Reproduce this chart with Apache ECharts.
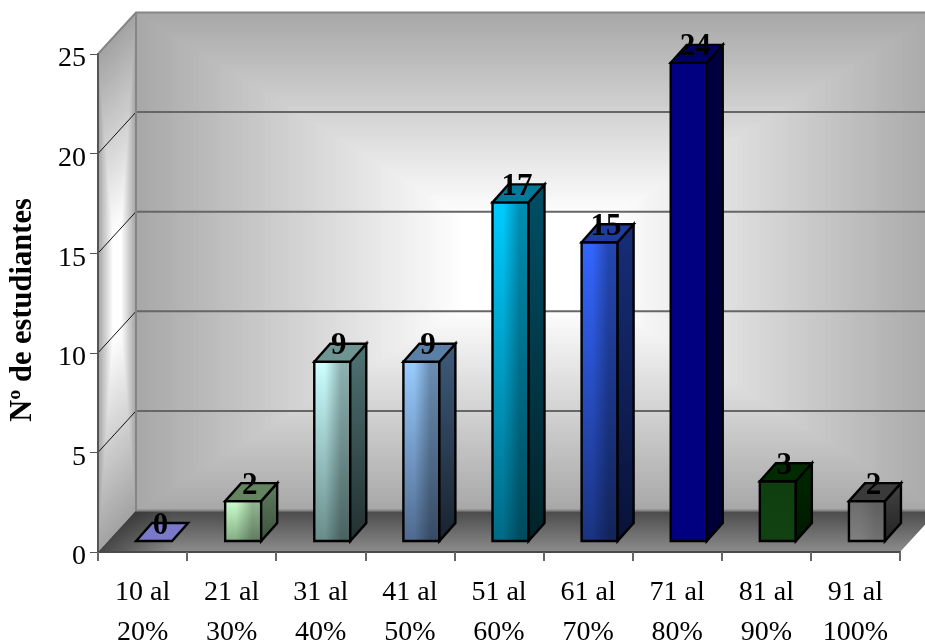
<!DOCTYPE html>
<html>
<head>
<meta charset="utf-8">
<style>html,body{margin:0;padding:0;background:#fff}#chart{width:925px;height:642px}</style>
<script src="https://cdn.jsdelivr.net/npm/echarts@6/dist/echarts.min.js"></script>
</head>
<body>
<div id="chart"></div>
<script>
// Distribution of students by score band
const categories = ['10 al\n20%', '21 al\n30%', '31 al\n40%', '41 al\n50%', '51 al\n60%', '61 al\n70%', '71 al\n80%', '81 al\n90%', '91 al\n100%'];
const students = [0, 2, 9, 9, 17, 15, 24, 3, 2];
const valueTicks = [0, 5, 10, 15, 20, 25];
const yTitle = 'Nº de estudiantes';

// Face colours of each column: front top, front bottom, front shade, side top, side bottom, cap
const faceStyles = [
  ['#7a78c8', '#7a78c8', 0,    '#7a78c8', '#7a78c8', '#7a78c8'],
  ['#ccffcc', '#84ac84', 0.28, '#5f7f5f', '#3c503c', '#64845f'],
  ['#ccffff', '#688c8a', 0.30, '#4f7474', '#222f2f', '#6f9593'],
  ['#99ccff', '#4f6a8e', 0.30, '#3f5c7c', '#18222e', '#5a80a8'],
  ['#00ccff', '#006a85', 0.30, '#004f66', '#002229', '#007a99'],
  ['#3366ff', '#1a3380', 0.30, '#172e78', '#081238', '#1f3d9e'],
  ['#000080', '#000080', 0,    '#000040', '#000038', '#000060'],
  ['#0f3f0f', '#124212', 0,    '#002800', '#001800', '#002a00'],
  ['#6c6c6c', '#808080', 0.12, '#444444', '#222222', '#3a3a3a']
];

// Projection of the box: how far the back wall sits from the front plane
const DEPTH_X = 38, DEPTH_Y = 41.5;
// Column placement inside that depth and on the band
const INSET_X = 11.5, INSET_Y = 11, COL_W = 36, COL_DX = 16, COL_DY = 18;

const hex = c => [1, 3, 5].map(i => parseInt(c.substr(i, 2), 16));
function mix(a, b, t) {
  const A = hex(a), B = hex(b);
  return 'rgb(' + A.map((v, i) => Math.round(v + (B[i] - v) * t)).join(',') + ')';
}
function vGrad(top, bottom) {
  return { type: 'linear', x: 0, y: 0, x2: 0, y2: 1, colorStops: [{ offset: 0, color: top }, { offset: 1, color: bottom }] };
}
function poly(points, style, z2) {
  return { type: 'polygon', shape: { points }, style, z2, silent: true };
}

// Nested outlines shrinking to the centre give the rectangular "from centre" shading
function nested(points, outer, inner, steps, z2, reach) {
  const cx = points.reduce((s, p) => s + p[0], 0) / points.length;
  const cy = points.reduce((s, p) => s + p[1], 0) / points.length;
  const out = [];
  for (let i = 0; i < steps; i++) {
    const s = 1 - i / steps;
    const t = Math.min(1, (i / (steps - 1)) / reach);
    out.push(poly(points.map(p => [cx + (p[0] - cx) * s, cy + (p[1] - cy) * s]), { fill: mix(outer, inner, t) }, z2 + i));
  }
  return out;
}

function renderBox(params, api) {
  const band = api.size([1, 0])[0];
  const x0 = api.coord([0, 0])[0] - band / 2;
  const x1 = x0 + band * categories.length;
  const yB = api.coord([0, 0])[1];
  const yT = api.coord([0, valueTicks[valueTicks.length - 1]])[1];
  const dx = DEPTH_X, dy = DEPTH_Y;

  const back = [[x0 + dx, yT - dy], [x1 + dx, yT - dy], [x1 + dx, yB - dy], [x0 + dx, yB - dy]];
  const side = [[x0, yT], [x0 + dx, yT - dy], [x0 + dx, yB - dy], [x0, yB]];
  const floor = [[x0, yB], [x0 + dx, yB - dy], [x1 + dx, yB - dy], [x1, yB]];

  const kids = [];
  kids.push(...nested(back, '#a8a8a8', '#ffffff', 90, 1, 0.82));
  kids.push(...nested(side, '#a4a4a4', '#ffffff', 50, 100, 0.8));
  kids.push(poly(floor, { fill: vGrad('#4a4a4a', '#8c8c8c') }, 200));
  kids.push(poly(floor, {
    fill: {
      type: 'linear', x: x0, y: 0, x2: x0 + 75, y2: 0, global: true,
      colorStops: [{ offset: 0, color: 'rgba(0,0,0,0.5)' }, { offset: 1, color: 'rgba(0,0,0,0)' }]
    }
  }, 201));

  valueTicks.forEach(v => {
    const y = api.coord([0, v])[1];
    if (v > 0 && v < valueTicks[valueTicks.length - 1]) {
      kids.push({ type: 'line', shape: { x1: x0, y1: y, x2: x0 + dx, y2: y - dy }, style: { stroke: '#111', lineWidth: 1 }, z2: 210, silent: true });
      kids.push({ type: 'line', shape: { x1: x0 + dx, y1: y - dy, x2: x1 + dx, y2: y - dy }, style: { stroke: '#666', lineWidth: 2 }, z2: 210, silent: true });
    }
  });
  const edge = { stroke: '#858585', lineWidth: 2 };
  kids.push({ type: 'polyline', shape: { points: [[x0, yT], [x0 + dx, yT - dy], [x1 + dx, yT - dy]] }, style: Object.assign({ fill: 'none' }, edge), z2: 211, silent: true });
  kids.push({ type: 'line', shape: { x1: x0 + dx, y1: yT - dy, x2: x0 + dx, y2: yB - dy }, style: edge, z2: 211, silent: true });
  kids.push({ type: 'line', shape: { x1: x0 + dx, y1: yB - dy, x2: x1 + dx, y2: yB - dy }, style: edge, z2: 211, silent: true });
  return { type: 'group', children: kids };
}

function renderColumn(params, api) {
  const i = api.value(0), v = api.value(1);
  const f = faceStyles[i];
  const left = api.coord([i, 0])[0] + INSET_X - COL_W / 2;
  const right = left + COL_W;
  const bottom = api.coord([i, 0])[1] - INSET_Y;
  const top = api.coord([i, v])[1] - INSET_Y;
  const line = { stroke: '#000', lineWidth: 2.4, lineJoin: 'miter' };
  const kids = [];
  if (v > 0) {
    kids.push(poly([[left, top], [right, top], [right, bottom], [left, bottom]], { fill: vGrad(f[0], f[1]) }, 1));
    if (f[2] > 0) {
      kids.push(poly([[left, top], [right, top], [right, bottom], [left, bottom]], {
        fill: {
          type: 'linear', x: 0, y: 0, x2: 1, y2: 0,
          colorStops: [
            { offset: 0, color: 'rgba(0,0,0,0)' },
            { offset: 0.3, color: 'rgba(0,0,0,0)' },
            { offset: 0.75, color: 'rgba(0,0,0,' + f[2] + ')' },
            { offset: 1, color: 'rgba(0,0,0,' + f[2] + ')' }
          ]
        }
      }, 2));
    }
    kids.push(poly([[left, top], [right, top], [right, bottom], [left, bottom]], Object.assign({ fill: 'none' }, line), 3));
    kids.push(poly([[right, top], [right + COL_DX, top - COL_DY], [right + COL_DX, bottom - COL_DY], [right, bottom]],
      Object.assign({ fill: vGrad(f[3], f[4]) }, line), 3));
  }
  kids.push(poly([[left, top], [right, top], [right + COL_DX, top - COL_DY], [left + COL_DX, top - COL_DY]],
    Object.assign({ fill: f[5] }, line), 3));
  kids.push({
    type: 'text', silent: true, z2: 10,
    x: left + COL_W / 2 + 6.5, y: top - COL_DY + 2.5,
    style: { text: String(v), fill: '#000', font: 'bold 31px "Liberation Serif"', textAlign: 'center', textVerticalAlign: 'middle' }
  });
  return { type: 'group', children: kids };
}

const chart = echarts.init(document.getElementById('chart'), null, { renderer: 'canvas' });
chart.setOption({
  animation: false,
  backgroundColor: '#ffffff',
  grid: { left: 98, right: 25, top: 54, bottom: 90, containLabel: false, outerBoundsMode: 'none' },
  xAxis: {
    type: 'category',
    data: categories,
    z: 5,
    axisLine: { lineStyle: { color: '#4a4a4a', width: 2 } },
    axisTick: { show: true, length: 9, lineStyle: { color: '#666', width: 2 } },
    axisLabel: { color: '#000', fontFamily: 'Liberation Serif', fontSize: 28, lineHeight: 40, margin: 21, interval: 0 }
  },
  yAxis: {
    type: 'value',
    min: 0,
    max: 25,
    interval: 5,
    z: 5,
    name: yTitle,
    nameLocation: 'middle',
    nameGap: 59,
    nameTextStyle: { color: '#000', fontFamily: 'Liberation Serif', fontSize: 30.5, fontWeight: 'bold', padding: [0, 14, 0, 0] },
    axisLine: { show: true, lineStyle: { color: '#555', width: 2 } },
    axisTick: { show: true, length: 8, lineStyle: { color: '#555', width: 1 } },
    axisLabel: { color: '#000', fontFamily: 'Liberation Serif', fontSize: 28, margin: 12, verticalAlign: 'top', lineHeight: 10 },
    splitLine: { show: false }
  },
  series: [
    { type: 'custom', z: 1, renderItem: renderBox, data: [[0, 0]], silent: true, clip: false },
    { type: 'custom', z: 6, renderItem: renderColumn, data: students.map((v, i) => [i, v]), silent: true, clip: false, encode: { x: 0, y: 1 } }
  ]
});
</script>
</body>
</html>
